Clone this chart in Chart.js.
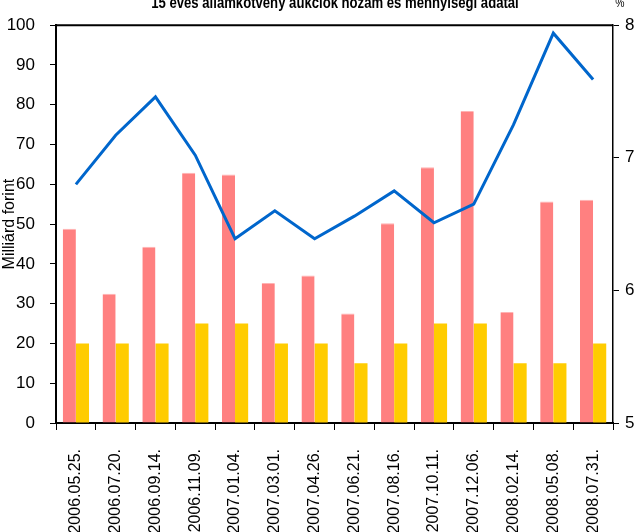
<!DOCTYPE html>
<html>
<head>
<meta charset="utf-8">
<script src="https://cdn.jsdelivr.net/npm/chart.js@4/dist/chart.umd.min.js"></script>
<style>
  body { margin: 0; background: #fff; }
  #wrap { position: relative; width: 642px; height: 532px; overflow: hidden; }
  #title {
    position: absolute; left: 335px; top: -6px; white-space: nowrap; line-height: 16px;
    font: bold 16px "Liberation Sans", Arial, sans-serif;
    transform: translateX(-50%) scaleX(0.82); color: #000;
  }
  #pct {
    position: absolute; left: 614px; top: -5px;
    font: 13px "Liberation Sans", Arial, sans-serif;
    transform: scaleX(0.8);
  }
</style>
</head>
<body>
<div id="wrap">
  <canvas id="chart" width="642" height="532"></canvas>
  <div id="title">15 éves államkötvény aukciók hozam és mennyiségi adatai</div>
  <div id="pct">%</div>
</div>
<script>
const dates = ['2006.05.25.', '2006.07.20.', '2006.09.14.', '2006.11.09.', '2007.01.04.',
  '2007.03.01.', '2007.04.26.', '2007.06.21.', '2007.08.16.', '2007.10.11.', '2007.12.06.',
  '2008.02.14.', '2008.05.08.', '2008.07.31.'];
const bids = [48.8, 32.5, 44.3, 62.9, 62.5, 35.2, 37.1, 27.5, 50.2, 64.3, 78.4, 27.9, 55.7, 56.1];
const offered = [20, 20, 20, 25, 25, 20, 20, 15, 20, 25, 25, 15, 15, 20];
const avgYield = [6.80, 7.17, 7.46, 7.02, 6.39, 6.60, 6.39, 6.56, 6.75, 6.51, 6.65, 7.25, 7.94, 7.59];

const narrow = '"Liberation Sans Narrow", "Liberation Sans", sans-serif';
const regular = '"Liberation Sans", Arial, sans-serif';

// top frame line of the plot
const topLine = {
  id: 'topLine',
  afterDatasetsDraw(chart) {
    const { ctx, chartArea } = chart;
    ctx.save();
    ctx.strokeStyle = '#000';
    ctx.lineWidth = 2;
    ctx.beginPath();
    ctx.moveTo(chartArea.left, chartArea.top);
    ctx.lineTo(chartArea.right, chartArea.top);
    ctx.stroke();
    ctx.restore();
  },
};

const ctx = document.getElementById('chart').getContext('2d');
new Chart(ctx, {
  type: 'bar',
  data: {
    labels: dates,
    datasets: [
      {
        type: 'line',
        label: 'Átlaghozam',
        data: avgYield,
        yAxisID: 'y1',
        borderColor: '#0066cc',
        borderWidth: 3,
        pointRadius: 0,
        tension: 0,
        order: 0,
      },
      {
        label: 'Benyújtott ajánlatok',
        data: bids,
        backgroundColor: '#ff8080',
        borderColor: '#ffb3b3',
        borderWidth: { top: 1, left: 0, right: 0, bottom: 0 },
        categoryPercentage: 0.66,
        barPercentage: 1,
        order: 1,
      },
      {
        label: 'Meghirdetett mennyiség',
        data: offered,
        backgroundColor: '#ffcc00',
        categoryPercentage: 0.66,
        barPercentage: 1,
        order: 1,
      },
    ],
  },
  options: {
    responsive: false,
    animation: false,
    layout: { padding: { top: 22, left: 0, right: 0, bottom: 0 } },
    plugins: {
      legend: { display: false },
      title: { display: false },
      tooltip: { enabled: false },
    },
    scales: {
      x: {
        afterFit: (scale) => { scale.height = 109; },
        grid: { drawOnChartArea: false, tickLength: 7, color: '#000', offset: true },
        border: { color: '#000', width: 2 },
        ticks: {
          color: '#000',
          font: { family: regular, size: 16 },
          minRotation: 90,
          maxRotation: 90,
          padding: 19,
          autoSkip: false,
        },
      },
      y: {
        position: 'left',
        min: 0,
        max: 100,
        afterFit: (scale) => { scale.width = 56; },
        grid: { drawOnChartArea: false, tickLength: 6, color: '#000' },
        border: { color: '#000', width: 2 },
        ticks: {
          stepSize: 10,
          color: '#000',
          padding: 15,
          font: { family: narrow, size: 17 },
        },
        title: {
          display: true,
          text: 'Milliárd forint',
          color: '#000',
          font: { family: regular, size: 16 },
          padding: { top: 0, bottom: 0 },
        },
      },
      y1: {
        position: 'right',
        min: 5,
        max: 8,
        afterFit: (scale) => { scale.width = 29; },
        grid: { drawOnChartArea: false, tickLength: 6, color: '#000' },
        border: { color: '#000', width: 1.5 },
        ticks: {
          stepSize: 1,
          color: '#000',
          padding: 6,
          font: { family: narrow, size: 17 },
        },
      },
    },
  },
  plugins: [topLine],
});
</script>
</body>
</html>
